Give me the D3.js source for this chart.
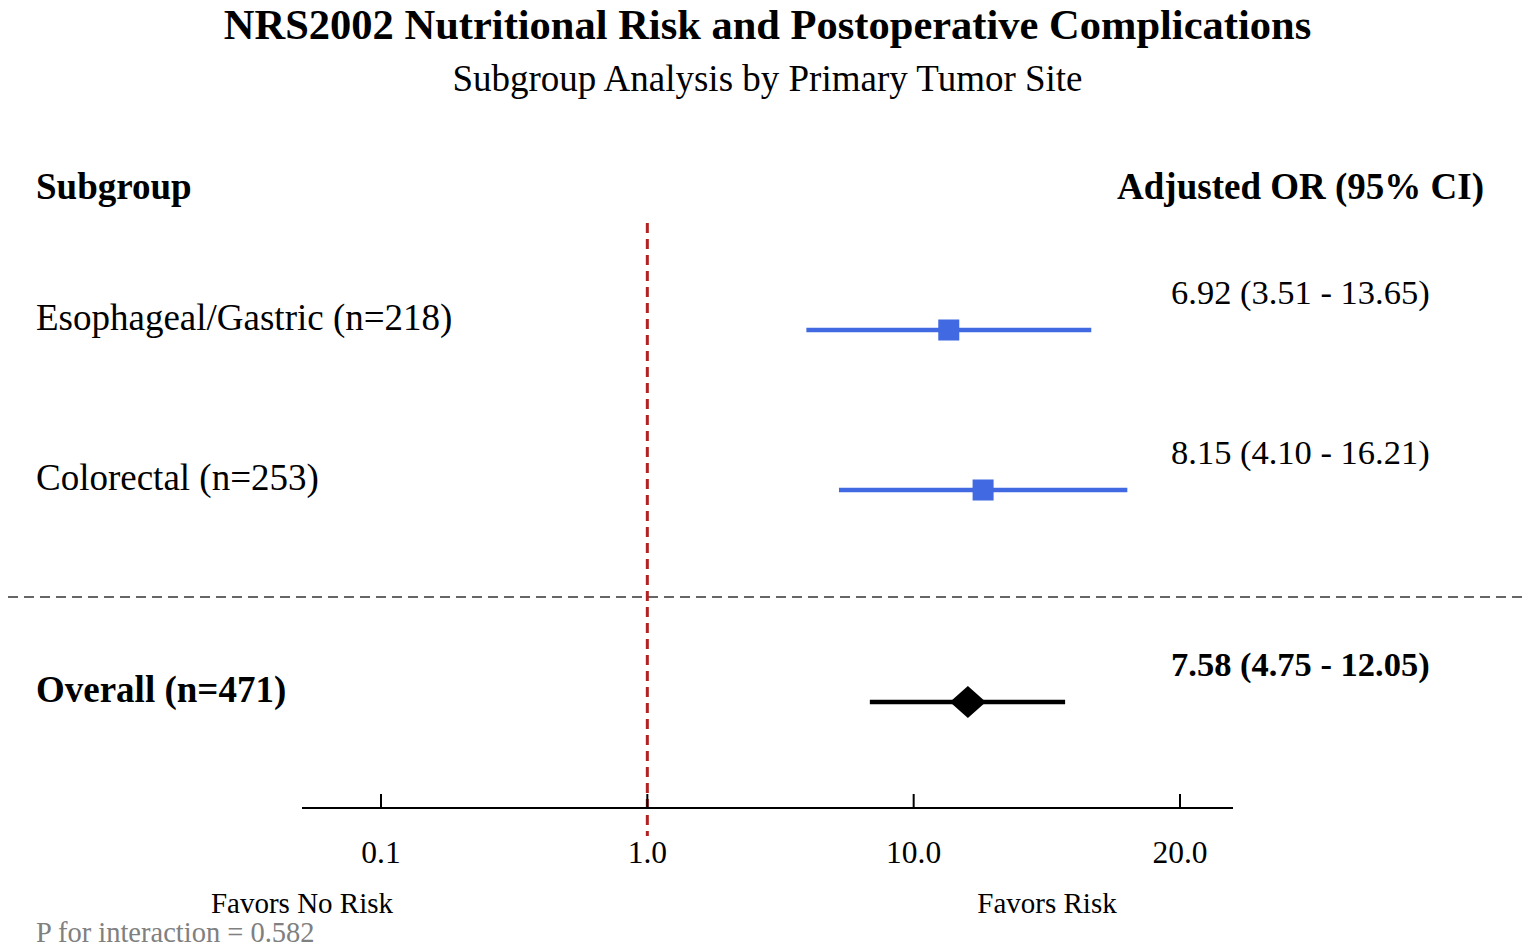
<!DOCTYPE html>
<html>
<head>
<meta charset="utf-8">
<script src="https://cdn.jsdelivr.net/npm/d3@7"></script>
<style>
  html, body { margin: 0; padding: 0; background: #fff; }
  svg { display: block; }
  text { font-family: "Liberation Serif", "Times New Roman", serif; }
</style>
</head>
<body>
<svg id="chart" width="1535" height="951"></svg>
<script>
// ---- data ----
const subgroups = ["Esophageal/Gastric (n=218)", "Colorectal (n=253)", "Overall (n=471)"];
const orValues = [6.92, 8.15, 7.58];
const ciLower = [3.51, 4.10, 4.75];
const ciUpper = [13.65, 16.21, 12.05];
const isOverall = [false, false, true];
const tickLabels = ["0.1", "1.0", "10.0", "20.0"];
const pInteraction = "0.582";

const svg = d3.select("#chart");
const W = 1535;

// scales
const xData = d3.scaleLog().domain([1, 10]).range([543, 1026]);
const xTick = d3.scalePoint().domain(tickLabels).range([381, 1180]);
const yRow = d3.scaleOrdinal().domain(subgroups).range([330, 490, 702]);

// title
svg.append("text").attr("x", W / 2).attr("y", 39).attr("text-anchor", "middle")
  .attr("font-size", 42.5).attr("font-weight", "bold").text("NRS2002 Nutritional Risk and Postoperative Complications");
svg.append("text").attr("x", W / 2).attr("y", 91).attr("text-anchor", "middle")
  .attr("font-size", 37).text("Subgroup Analysis by Primary Tumor Site");

// headers
svg.append("text").attr("x", 36).attr("y", 199).attr("font-size", 37).attr("font-weight", "bold").text("Subgroup");
svg.append("text").attr("x", 1484).attr("y", 199).attr("text-anchor", "end").attr("font-size", 37).attr("font-weight", "bold").text("Adjusted OR (95% CI)");

// separator
svg.append("line").attr("x1", 8).attr("x2", 1527).attr("y1", 597).attr("y2", 597)
  .attr("stroke", "#666").attr("stroke-width", 2).attr("stroke-dasharray", "10,6");

// reference line at 1.0
svg.append("line").attr("x1", xTick("1.0")).attr("x2", xTick("1.0")).attr("y1", 223).attr("y2", 836)
  .attr("stroke", "#b22222").attr("stroke-width", 3).attr("stroke-dasharray", "10,6");

// axis
const axisY = 808;
svg.append("line").attr("x1", 302).attr("x2", 1233).attr("y1", axisY).attr("y2", axisY)
  .attr("stroke", "#000").attr("stroke-width", 2);
const tg = svg.append("g");
tickLabels.forEach(t => {
  tg.append("line").attr("x1", xTick(t)).attr("x2", xTick(t)).attr("y1", axisY - 14).attr("y2", axisY)
    .attr("stroke", "#000").attr("stroke-width", 2);
  tg.append("text").attr("x", xTick(t)).attr("y", 863).attr("text-anchor", "middle").attr("font-size", 31.5).text(t);
});

svg.append("text").attr("x", 302).attr("y", 913).attr("text-anchor", "middle").attr("font-size", 29).text("Favors No Risk");
svg.append("text").attr("x", 1047).attr("y", 913).attr("text-anchor", "middle").attr("font-size", 29).text("Favors Risk");
svg.append("text").attr("x", 36).attr("y", 942).attr("font-size", 28.5).attr("fill", "#808080").text("P for interaction = " + pInteraction);

// rows
subgroups.forEach((s, i) => {
  const y = yRow(s);
  const bold = isOverall[i];
  const col = bold ? "#000" : "#4169e1";
  svg.append("text").attr("x", 36).attr("y", y).attr("font-size", 37)
    .attr("font-weight", bold ? "bold" : "normal").text(s);
  svg.append("text").attr("x", 1171).attr("y", y - 26).attr("font-size", 34.5)
    .attr("font-weight", bold ? "bold" : "normal")
    .text(`${orValues[i].toFixed(2)} (${ciLower[i].toFixed(2)} - ${ciUpper[i].toFixed(2)})`);
  svg.append("line").attr("x1", xData(ciLower[i])).attr("x2", xData(ciUpper[i])).attr("y1", y).attr("y2", y)
    .attr("stroke", col).attr("stroke-width", 4.5);
  const cx = xData(orValues[i]);
  if (bold) {
    svg.append("path").attr("d", `M${cx - 18},${y} L${cx},${y - 16} L${cx + 18},${y} L${cx},${y + 16} Z`).attr("fill", "#000");
  } else {
    svg.append("rect").attr("x", cx - 10.5).attr("y", y - 10.5).attr("width", 21).attr("height", 21).attr("fill", col);
  }
});
</script>
</body>
</html>
